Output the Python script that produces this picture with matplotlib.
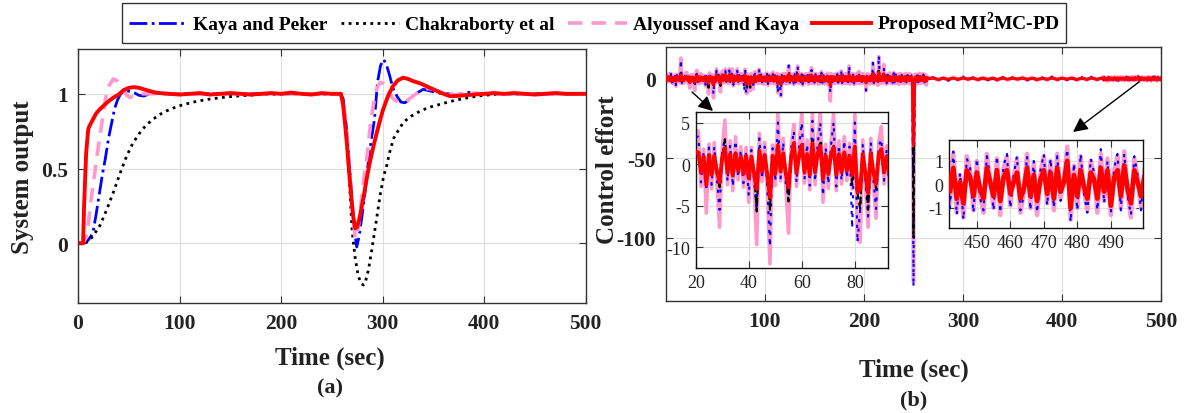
import numpy as np
import matplotlib
matplotlib.use("Agg")
import matplotlib.pyplot as plt

plt.rcParams['font.family'] = 'Liberation Serif'
plt.rcParams['mathtext.fontset'] = 'custom'
plt.rcParams['mathtext.rm'] = 'Liberation Serif'
plt.rcParams['mathtext.bf'] = 'Liberation Serif:bold'
plt.rcParams['axes.unicode_minus'] = False

BLUE = '#0000ff'
BLACK = '#000000'
PINK = '#ff99cc'
RED = '#ff0000'

labels = ['Kaya and Peker', 'Chakraborty et al', 'Alyoussef and Kaya',
          r'Proposed MI$^{\mathbf{2}}$MC-PD']

# ---- (a) system output ----
t_red = [0, 5, 6, 8, 10, 11, 14, 18, 22, 26, 30, 35, 40, 45, 50, 55, 60, 65, 70, 75,
         80, 90, 100, 110, 120, 130, 140, 150, 160, 170, 180, 190, 200, 210, 220, 230, 240, 250, 256, 259,
         261, 263, 265, 267, 269, 271, 273, 275, 277, 279, 281, 284, 287, 291, 295, 300, 305, 310, 315, 320,
         325, 330, 337, 345, 353, 360, 366, 372, 380, 390, 400, 410, 420, 430, 440, 450, 460, 470, 480, 490, 500]
y_red = [0, 0, 0.25, 0.6, 0.76, 0.78, 0.82, 0.87, 0.90, 0.925, 0.95, 0.975, 0.995, 1.025, 1.04, 1.045, 1.04, 1.03, 1.02, 1.01,
         1.005, 1.0, 0.995, 1.0, 1.005, 0.995, 1.0, 1.005, 1.0, 0.995, 1.0, 1.005, 1.0, 1.008, 1.0, 0.995, 1.005, 1.0, 1.0, 1.0,
         0.93, 0.80, 0.65, 0.48, 0.32, 0.18, 0.10, 0.11, 0.16, 0.23, 0.30, 0.42, 0.53, 0.65, 0.76, 0.885, 0.98, 1.05, 1.09, 1.108,
         1.10, 1.085, 1.07, 1.045, 1.02, 1.0, 0.985, 0.985, 0.99, 0.995, 1.0, 1.005, 1.0, 1.005, 1.0, 0.995, 1.0, 1.005, 1.0, 1.0, 1.0]

t_blue = [0, 6, 10, 13, 15, 18, 21, 24, 27, 30, 33, 36, 39, 42, 45, 48, 52, 56, 60, 65,
          70, 75, 85, 95, 110, 130, 150, 170, 190, 210, 230, 250, 258, 261, 264, 267, 270, 272, 274.5, 277,
          280, 283, 286, 289, 292, 295, 298, 301, 304, 307, 310, 314, 318, 322, 326, 330, 335, 340, 346, 353,
          360, 366, 372, 378, 384, 390, 400, 420, 440, 460, 480, 500]
y_blue = [0, 0, 0.02, 0.05, 0.08, 0.2, 0.33, 0.46, 0.57, 0.70, 0.80, 0.90, 0.96, 1.0, 1.015, 1.02, 1.015, 1.005, 0.99, 0.985,
          1.0, 1.005, 1.0, 1.0, 1.0, 1.0, 1.0, 1.0, 1.0, 1.0, 1.0, 1.0, 1.0, 0.97, 0.80, 0.55, 0.28, 0.10, -0.025, 0.05,
          0.2, 0.36, 0.55, 0.70, 0.83, 1.08, 1.19, 1.23, 1.19, 1.12, 1.04, 0.985, 0.945, 0.94, 0.96, 0.985, 1.01, 1.03, 1.02, 1.01,
          1.0, 1.0, 0.995, 1.0, 1.01, 1.005, 1.0, 1.0, 1.0, 1.0, 1.0, 1.0]

t_pink = [0, 5, 8, 10, 13, 16.7, 19, 21.7, 24, 26, 28.3, 31, 34.8, 38, 41, 44.6, 48, 51.2, 55, 61,
          70, 80, 100, 130, 160, 190, 220, 250, 258, 261, 264, 267, 270, 273, 276, 279, 282, 285, 288, 291,
          294, 297.5, 301, 304, 307, 310, 314, 318, 322, 326, 330, 335, 340, 345, 350, 356, 363, 370, 380, 390,
          400, 420, 440, 460, 480, 500]
y_pink = [0, 0, 0.04, 0.12, 0.3, 0.48, 0.6, 0.72, 0.83, 0.92, 1.01, 1.06, 1.1, 1.09, 1.06, 1.03, 0.99, 0.975, 0.985, 1.0,
          1.0, 1.0, 1.0, 1.0, 1.0, 1.0, 1.0, 1.0, 1.0, 0.96, 0.78, 0.52, 0.25, 0.03, 0.1, 0.28, 0.45, 0.6, 0.8, 0.93,
          1.03, 1.075, 1.07, 1.05, 1.0, 0.97, 0.95, 0.94, 0.945, 0.965, 0.985, 1.01, 1.03, 1.035, 1.03, 1.015, 1.0, 0.995, 1.0, 1.005,
          1.0, 1.0, 1.0, 1.0, 1.0, 1.0]

t_black = [0, 5, 10, 15, 21.7, 28, 34.8, 41, 48, 54, 61, 67, 74, 80, 87, 94, 100, 108, 117, 130,
           145, 160, 180, 200, 230, 258, 261, 264, 267, 270, 273, 276, 279, 281, 283, 286, 289, 291, 294, 297.5,
           301, 304, 307, 310.7, 315, 320.5, 328, 337, 346, 356.7, 366, 376, 385, 394, 405, 420, 440, 460, 480, 500]
y_black = [0, 0, 0.01, 0.05, 0.12, 0.22, 0.34, 0.46, 0.585, 0.67, 0.74, 0.79, 0.83, 0.86, 0.885, 0.905, 0.92, 0.935, 0.95, 0.965,
           0.978, 0.987, 0.995, 1.0, 1.0, 1.0, 0.96, 0.75, 0.45, 0.08, -0.1, -0.22, -0.27, -0.28, -0.26, -0.18, -0.06, 0.03, 0.16, 0.32,
           0.45, 0.52, 0.61, 0.70, 0.75, 0.81, 0.85, 0.885, 0.91, 0.93, 0.948, 0.963, 0.975, 0.985, 0.993, 1.0, 1.0, 1.0, 1.0, 1.0]

# ---- (b) control effort ----
# samples every 1 s for t = 0..265
u_pink_early = [
    0.0, 2.5, -2.0, 3.1, -1.5, 3.4, -2.8, 1.9, -3.3, 2.2,
    -4.8, 2.7, -1.6, 3.0, -2.4, 13.0, -3.1, 2.0, -2.6, 1.5,
    3.9, 4.0, -2.7, 1.8, -5.9, 2.4, -3.0, 2.6, -2.2, -7.6,
    1.9, 5.3, -2.5, 2.8, -3.2, 3.3, -1.9, 2.1, -2.8, 2.0,
    -4.6, 2.0, -2.4, -9.7, 3.7, -2.1, 2.6, -3.4, -12.0, 2.3,
    -2.6, 6.2, -2.0, 3.1, -3.0, -8.3, 2.2, 4.8, -2.7, 2.5,
    6.1, -2.3, 2.9, -3.1, 6.2, -2.5, 3.0, 6.1, -4.6, 2.4,
    -2.9, 2.6, 6.1, -3.2, 2.8, -2.4, 3.3, -2.0, 2.5, -3.0,
    6.0, -9.1, -9.4, 2.9, -2.6, -7.6, 3.1, -2.3, -6.5, 2.7,
    4.5, -2.4, 2.2, -3.0, 6.0, -2.5, 3.2, -2.8, 2.4, -3.5,
    2.9, -2.2, 3.6, -4.0, 2.5, -2.9, 3.0, -2.4, 4.2, -3.1,
    2.6, -2.8, 3.3, -9.0, 2.7, -3.4, -11.0, 2.9, -2.5, 3.4,
    -2.7, 3.0, -3.3, 2.6, 8.3, -2.9, 3.1, -2.2, 2.8, -3.6,
    3.5, -2.6, 2.9, 8.0, -3.0, 2.7, -2.5, 3.3, -4.1, 2.4,
    -2.8, 3.2, -2.3, 2.9, -3.4, 3.6, -2.7, 7.0, -3.1, 2.6,
    -2.9, 3.4, -2.4, 2.8, -3.5, 3.1, -2.6, 4.5, -3.0, 2.7,
    -3.3, 2.5, -2.8, 3.6, -4.2, 2.9, -14.0, 3.2, -2.7, 2.4,
    -3.1, 2.8, -2.5, 3.5, -2.9, 3.0, -2.4, 5.0, -3.2, 2.6,
    -2.8, 3.3, -3.0, 2.7, -2.6, 8.0, -3.4, 2.9, -2.3, 3.1,
    -3.6, 2.5, -2.9, 3.4, -2.7, 4.6, -3.1, 2.8, -2.4, 3.2,
    -3.0, 2.6, -7.5, 3.1, -2.8, 2.9, -3.3, 2.4, -2.6, 10.0,
    -3.2, 3.0, -2.5, 3.6, -4.1, 14.0, -3.0, 2.8, -2.7, 3.3,
    9.0, -2.9, 2.6, -3.4, 3.0, -2.5, 3.7, -2.8, 2.4, -3.1,
    4.0, -2.6, 3.1, -2.9, 2.7, -3.5, 3.3, -2.4, 2.9, -3.0,
    2.6, -3.3, 3.4, -2.7, 2.8, -2.5, 3.2, -3.1, 2.5, -2.2,
    -128.0, -2.9, 3.0, -3.4, 2.7, -2.6, 3.5, -3.0, 2.9, -2.4,
    3.1, -2.8, 2.6, -4.0, 1.5, 0.3]
u_red_early = [
    0.0, 1.2, -0.9, 1.4, -1.1, 1.0, -1.3, 0.8, -1.2, 1.1,
    -1.6, 1.3, -0.7, 1.2, -1.0, 2.6, -1.2, 0.9, -1.1, 0.8,
    1.5, 1.4, -1.0, 0.9, -2.5, 1.1, -1.3, 1.0, -0.9, -2.2,
    0.8, 1.9, -1.1, 1.2, -1.4, 1.3, -0.8, 0.9, -1.2, 1.0,
    -1.7, 0.9, -1.1, -3.0, 1.6, -0.9, 1.1, -1.3, -4.0, 1.0,
    -1.2, 2.2, -0.9, 1.3, -1.2, -2.8, 0.9, 2.5, -1.1, 1.0,
    2.3, -1.0, 1.2, -1.3, 2.5, -1.0, 1.3, 2.2, -1.8, 1.0,
    -1.2, 1.1, 2.0, -1.3, 1.2, -1.0, 1.4, -0.8, 1.0, -1.3,
    2.1, -3.4, -3.0, 1.2, -1.1, -3.5, 1.3, -1.0, -2.4, 1.1,
    1.8, -1.0, 0.9, -1.2, 2.0, -1.1, 1.3, -1.2, 1.0, -1.4,
    1.2, -0.9, 1.5, -1.6, 1.0, -1.2, 1.3, -1.0, 1.7, -1.3,
    1.1, -1.2, 1.4, -3.0, 1.1, -1.4, -3.5, 1.2, -1.0, 1.4,
    -1.1, 1.2, -1.4, 1.1, 2.8, -1.2, 1.3, -0.9, 1.2, -1.5,
    1.4, -1.1, 1.2, 2.6, -1.2, 1.1, -1.0, 1.4, -1.7, 1.0,
    -1.2, 1.3, -0.9, 1.2, -1.4, 1.5, -1.1, 2.4, -1.3, 1.1,
    -1.2, 1.4, -1.0, 1.2, -1.5, 1.3, -1.1, 1.8, -1.2, 1.1,
    -1.4, 1.0, -1.2, 1.5, -1.7, 1.2, -4.5, 1.3, -1.1, 1.0,
    -1.3, 1.2, -1.0, 1.4, -1.2, 1.2, -1.0, 2.0, -1.3, 1.1,
    -1.2, 1.4, -1.2, 1.1, -1.1, 2.6, -1.4, 1.2, -0.9, 1.3,
    -1.5, 1.0, -1.2, 1.4, -1.1, 1.9, -1.3, 1.2, -1.0, 1.3,
    -1.2, 1.1, -2.5, 1.3, -1.2, 1.2, -1.4, 1.0, -1.1, 3.2,
    -1.3, 1.2, -1.0, 1.5, -1.7, 4.0, -1.2, 1.2, -1.1, 1.4,
    3.0, -1.2, 1.1, -1.4, 1.2, -1.0, 1.5, -1.2, 1.0, -1.3,
    1.6, -1.1, 1.3, -1.2, 1.1, -1.4, 1.3, -1.0, 1.2, -1.2,
    1.1, -1.4, 1.4, -1.1, 1.2, -1.0, 1.3, -1.3, 1.0, -0.9,
    -42.0, -1.2, 1.2, -1.4, 1.1, -1.1, 1.4, -1.2, 1.2, -1.0,
    1.3, -1.1, 1.0, -1.6, 0.6, 0.2]
u_blue_early = [
    0.0, 2.0, -1.6, 2.7, -1.2, 3.0, -2.4, 1.5, -2.9, 1.8,
    -4.0, 2.3, -1.3, 2.5, -2.0, 12.0, -2.6, 1.6, -2.2, 1.2,
    3.2, 3.3, -2.2, 1.5, -3.2, 2.0, -2.5, 2.1, -1.8, -5.5,
    1.6, 3.1, -2.1, 2.3, -2.7, 2.8, -1.6, 1.7, -2.3, 1.6,
    -3.8, 1.7, -2.0, -5.5, 3.1, -1.8, 2.1, -2.8, -9.9, 1.9,
    -2.1, 5.0, -1.7, 2.6, -2.5, -4.0, 1.8, 4.0, -2.2, 2.1,
    5.0, -1.9, 2.4, -2.6, 5.2, -2.1, 2.5, 5.0, -3.8, 2.0,
    -2.4, 2.2, 5.0, -2.7, 2.3, -2.0, 2.8, -1.7, 2.1, -7.7,
    5.0, -9.4, -5.5, 2.4, -2.2, -6.3, 2.6, -1.9, -5.4, 2.2,
    3.0, -2.0, 1.8, -2.5, 6.0, -2.1, 2.7, -2.3, 2.0, -2.9,
    2.4, -1.8, 3.0, -3.3, 2.1, -2.4, 2.5, -2.0, 3.5, -2.6,
    2.2, -2.3, 2.8, -9.0, 2.2, -2.8, -11.0, 2.4, -2.1, 2.8,
    -2.2, 2.5, -2.7, 2.2, 8.3, -2.4, 2.6, -1.8, 2.3, -3.0,
    2.9, -2.2, 2.4, 8.0, -2.5, 2.2, -2.1, 2.7, -3.4, 2.0,
    -2.3, 2.6, -1.9, 2.4, -2.8, 3.0, -2.2, 5.5, -2.6, 2.2,
    -2.4, 2.8, -2.0, 2.3, -2.9, 2.6, -2.2, 3.7, -2.5, 2.2,
    -2.7, 2.1, -2.3, 3.0, -3.5, 2.4, -9.0, 2.7, -2.2, 2.0,
    -2.6, 2.3, -2.1, 2.9, -2.4, 2.5, -2.0, 5.0, -2.7, 2.2,
    -2.3, 2.7, -2.5, 2.2, -2.2, 8.0, -2.8, 2.4, -1.9, 2.6,
    -3.0, 2.1, -2.4, 2.8, -2.2, 3.8, -2.6, 2.3, -2.0, 2.7,
    -2.5, 2.2, -7.5, 2.6, -2.3, 2.4, -2.7, 2.0, -2.2, 10.0,
    -2.7, 2.5, -2.1, 3.0, -3.4, 14.6, -2.5, 2.3, -2.2, 2.7,
    7.0, -2.4, 2.2, -2.8, 2.5, -2.1, 3.1, -2.3, 2.0, -2.6,
    3.5, -2.2, 2.6, -2.4, 2.2, -2.9, 2.7, -2.0, 2.4, -2.5,
    2.2, -2.7, 2.8, -2.2, 2.3, -2.1, 2.6, -2.6, 2.1, -1.8,
    -131.0, -2.4, 2.5, -2.8, 2.2, -2.2, 2.9, -2.5, 2.4, -2.0,
    2.6, -2.3, 2.2, -3.3, 1.2, 0.2]
u_black_early = [
    0.0, 1.0, -0.8, 1.2, -0.9, 1.3, -1.0, 0.7, -1.1, 0.9,
    -1.8, 1.0, -0.6, 1.1, -0.8, 4.0, -1.0, 0.7, -0.9, 0.6,
    1.4, 1.3, -0.9, 0.7, -2.0, 0.9, -1.0, 0.8, -0.7, -3.0,
    0.7, 3.0, -0.9, 1.0, -1.1, 1.2, -0.7, 0.8, -1.0, 0.8,
    -1.8, 0.8, -0.9, -5.7, 1.4, -0.8, 0.9, -1.1, -5.5, 0.8,
    -1.0, 2.4, -0.8, 1.1, -1.0, -4.5, 0.8, 2.0, -0.9, 0.9,
    2.3, -0.8, 1.0, -1.1, 2.8, -0.9, 1.1, 2.8, -1.8, 0.9,
    -1.0, 0.9, 2.2, -1.1, 1.0, -0.8, 1.2, -0.7, 0.9, -2.5,
    2.0, -3.5, -5.4, 1.0, -0.9, -5.5, 1.1, -0.8, -3.0, 0.9,
    1.6, -0.8, 0.8, -1.0, 2.2, -0.9, 1.1, -1.0, 0.9, -1.2,
    1.0, -0.8, 1.3, -1.4, 0.9, -1.0, 1.1, -0.9, 1.5, -1.1,
    0.9, -1.0, 1.2, -3.5, 0.9, -1.2, -4.0, 1.0, -0.9, 1.2,
    -0.9, 1.0, -1.2, 0.9, 3.0, -1.0, 1.1, -0.8, 1.0, -1.3,
    1.2, -0.9, 1.0, 3.0, -1.0, 0.9, -0.9, 1.2, -1.5, 0.8,
    -1.0, 1.1, -0.8, 1.0, -1.2, 1.3, -0.9, 2.5, -1.1, 0.9,
    -1.0, 1.2, -0.9, 1.0, -1.3, 1.1, -0.9, 1.6, -1.0, 0.9,
    -1.2, 0.9, -1.0, 1.3, -1.5, 1.0, -5.0, 1.1, -0.9, 0.8,
    -1.1, 1.0, -0.9, 1.2, -1.0, 1.0, -0.9, 2.0, -1.1, 0.9,
    -1.0, 1.2, -1.0, 0.9, -0.9, 3.0, -1.2, 1.0, -0.8, 1.1,
    -1.3, 0.9, -1.0, 1.2, -0.9, 1.7, -1.1, 1.0, -0.9, 1.1,
    -1.0, 0.9, -3.0, 1.1, -1.0, 1.0, -1.2, 0.9, -0.9, 3.5,
    -1.1, 1.0, -0.9, 1.3, -1.5, 5.0, -1.0, 1.0, -0.9, 1.2,
    3.2, -1.0, 0.9, -1.2, 1.0, -0.9, 1.3, -1.0, 0.9, -1.1,
    1.5, -0.9, 1.1, -1.0, 0.9, -1.2, 1.1, -0.9, 1.0, -1.0,
    0.9, -1.2, 1.2, -0.9, 1.0, -0.9, 1.1, -1.1, 0.9, -0.8,
    -100.0, -1.0, 1.0, -1.2, 0.9, -0.9, 1.2, -1.0, 1.0, -0.9,
    1.1, -0.9, 0.9, -1.4, 0.5, 0.1]

# samples every 5 s for t = 270..440
u_pink_mid = [0.8, -0.9, 0.7, -1.0, 0.9, -0.8, 1.1, -0.7, 0.8, -1.0, 0.9, -0.8, 0.7, -1.1, 1.0, -0.9, 0.8, -0.7,
              1.0, -0.9, 0.8, -1.0, 0.7, -0.8, 1.1, -0.9, 0.8, -0.7, 0.9, -1.0, 0.8, -0.9, 1.0, -0.8, 0.7]
u_red_mid = [0.3, -0.4, 0.3, -0.3, 0.4, -0.3, 0.4, -0.2, 0.3, -0.4, 0.3, -0.3, 0.2, -0.4, 0.4, -0.3, 0.3, -0.2,
             0.4, -0.3, 0.3, -0.4, 0.2, -0.3, 0.4, -0.3, 0.3, -0.2, 0.3, -0.4, 0.3, -0.3, 0.4, -0.3, 0.2]
u_blue_mid = [0.9, -1.1, 0.8, -1.2, 1.0, -0.9, 1.3, -0.8, 0.9, -1.1, 1.0, -0.9, 0.8, -1.3, 1.1, -1.0, 0.9, -0.8,
              1.2, -1.0, 0.9, -1.2, 0.8, -0.9, 1.3, -1.0, 0.9, -0.8, 1.0, -1.1, 0.9, -1.0, 1.2, -0.9, 0.8]
u_black_mid = [0.4, -0.5, 0.3, -0.5, 0.4, -0.4, 0.5, -0.3, 0.4, -0.5, 0.4, -0.4, 0.3, -0.5, 0.5, -0.4, 0.4, -0.3,
               0.5, -0.4, 0.4, -0.5, 0.3, -0.4, 0.5, -0.4, 0.4, -0.3, 0.4, -0.5, 0.4, -0.4, 0.5, -0.4, 0.3]

# samples every 1 s for t = 441..500
u_pink_late = [
    1.1, -0.8, 1.3, -1.2, 0.4, -1.4, 1.2, 0.6, -1.1, 1.0,
    -0.5, -1.2, 1.3, 0.2, -1.0, 1.1, -1.3, 0.7, 1.2, -0.9,
    0.3, 1.1, -1.2, -0.4, 1.3, -1.0, 0.9, -1.3, 0.5, 1.2,
    -0.8, 1.0, -1.1, 1.3, -0.6, 0.2, 1.6, -1.5, 0.8, -1.0,
    1.2, -0.3, -1.1, 1.0, 0.4, -1.2, 1.3, -0.7, 1.1, -1.3,
    0.6, 1.2, -1.0, 1.4, -0.4, -1.4, 1.1, 0.3, -1.0, 0.6]
u_red_late = [
    0.6, -0.3, 0.7, -0.6, 0.1, -0.8, 0.6, 0.3, -0.5, 0.5,
    -0.2, -0.6, 0.7, 0.1, -0.5, 0.6, -0.7, 0.3, 0.6, -0.4,
    0.1, 0.5, -0.6, -0.2, 0.7, -0.5, 0.4, -0.7, 0.2, 0.6,
    -0.4, 0.5, -0.6, 0.7, -0.3, 0.1, 1.0, -1.0, 0.4, -0.5,
    0.6, -0.1, -0.6, 0.5, 0.2, -0.6, 0.7, -0.3, 0.6, -0.9,
    0.3, 0.6, -0.5, 0.8, -0.2, -0.8, 0.6, 0.1, -0.5, 0.3]
u_blue_late = [
    1.2, -1.0, 1.4, -1.3, 0.5, -1.5, 1.1, 0.7, -1.2, 1.1,
    -0.6, -1.1, 1.2, 0.3, -1.1, 1.2, -1.2, 0.8, 1.3, -1.0,
    0.4, 1.2, -1.1, -0.5, 1.2, -1.1, 1.0, -1.2, 0.6, 1.3,
    -0.9, 1.1, -1.0, 1.2, -0.7, 0.3, 1.5, -1.6, 0.9, -1.1,
    1.3, -0.4, -1.2, 1.1, 0.5, -1.1, 1.5, -0.8, 1.0, -1.2,
    0.7, 1.3, -1.1, 1.3, -0.5, -1.3, 1.2, 0.4, -1.1, 0.7]
u_black_late = [
    0.5, -0.3, 0.6, -0.5, 0.2, -0.6, 0.5, 0.3, -0.5, 0.4,
    -0.2, -0.5, 0.6, 0.1, -0.4, 0.5, -0.6, 0.3, 0.5, -0.4,
    0.1, 0.5, -0.5, -0.2, 0.6, -0.4, 0.4, -0.6, 0.2, 0.5,
    -0.3, 0.4, -0.5, 0.6, -0.3, 0.1, 0.7, -0.7, 0.3, -0.4,
    0.5, -0.1, -0.5, 0.4, 0.2, -0.5, 0.6, -0.3, 0.5, -0.6,
    0.3, 0.5, -0.4, 0.6, -0.2, -0.6, 0.5, 0.1, -0.4, 0.3]

t_u = np.concatenate([np.arange(0, 266), np.arange(270, 441, 5), np.arange(441, 501)])
u_pink = np.concatenate([u_pink_early, u_pink_mid, u_pink_late])
u_red = np.concatenate([u_red_early, u_red_mid, u_red_late])
u_blue = np.concatenate([u_blue_early, u_blue_mid, u_blue_late])
u_black = np.concatenate([u_black_early, u_black_mid, u_black_late])

W, H = 1184, 414
SPINE = '#333333'
GRID = '#dedede'


def fx(px):
    return px / W


def fy(py):
    return 1 - py / H


def style_axes(ax, bold=True, size=15.5):
    ax.grid(True, color=GRID, lw=0.8)
    ax.set_axisbelow(True)
    for s in ax.spines.values():
        s.set_color(SPINE)
        s.set_linewidth(1.0)
    ax.tick_params(direction='in', length=5, width=0.8, color=SPINE,
                   top=True, right=True, labelsize=size, pad=7)
    for lab in ax.get_xticklabels() + ax.get_yticklabels():
        lab.set_fontweight('bold' if bold else 'normal')
        lab.set_color('#222222')


fig = plt.figure(figsize=(W / 100, H / 100), dpi=100)

# ---- (a) ----
ax1 = fig.add_axes([fx(78), fy(304), (585.7 - 78) / W, (304 - 50) / H])
h_blue, = ax1.plot(t_blue, y_blue, color=BLUE, ls='-.', lw=2.0)
h_black, = ax1.plot(t_black, y_black, color=BLACK, ls=(0, (1, 1.6)), lw=2.0)
h_pink, = ax1.plot(t_pink, y_pink, color=PINK, ls=(0, (4, 2.5)), lw=2.6)
h_red, = ax1.plot(t_red, y_red, color=RED, ls='-', lw=2.8)
ax1.set_xlim(0, 500)
ax1.set_ylim(-0.4, 1.3)
ax1.set_xticks([0, 100, 200, 300, 400, 500])
ax1.set_yticks([0, 0.5, 1])
ax1.set_yticklabels(['0', '0.5', '1'])
style_axes(ax1)

fig.text(fx(23), fy(177), 'System output', rotation=90, ha='center', va='center',
         fontsize=18, fontweight='bold', color='#222222')
fig.text(fx(330), fy(358), 'Time (sec)', ha='center', va='center',
         fontsize=18, fontweight='bold', color='#222222')
fig.text(fx(330), fy(388), '(a)', ha='center', va='center',
         fontsize=16, fontweight='bold', color='#222222')

# ---- (b) ----
ax2 = fig.add_axes([fx(666), fy(302), (1161 - 666) / W, (302 - 48) / H])


def draw_u(ax, lw_wide=2.6, lw_red=2.2):
    ax.plot(t_u, u_pink, color=PINK, ls='-', lw=lw_wide, zorder=2)
    ax.plot(t_u, u_blue, color=BLUE, ls=(0, (1.5, 3)), lw=1.5, zorder=3)
    ax.plot(t_u, u_black, color=BLACK, ls='--', lw=1.5, zorder=4)
    ax.plot(t_u, u_red, color=RED, ls='-', lw=lw_red, zorder=5)


draw_u(ax2)
ax2.set_xlim(0, 500)
ax2.set_ylim(-140, 20)
ax2.set_xticks([100, 200, 300, 400, 500])
ax2.set_yticks([-100, -50, 0])
style_axes(ax2)

fig.text(fx(607), fy(170), 'Control effort', rotation=90, ha='center', va='center',
         fontsize=18, fontweight='bold', color='#222222')
fig.text(fx(914), fy(370), 'Time (sec)', ha='center', va='center',
         fontsize=18, fontweight='bold', color='#222222')
fig.text(fx(914), fy(400), '(b)', ha='center', va='center',
         fontsize=16, fontweight='bold', color='#222222')

# zoomed insets
ins1 = fig.add_axes([fx(695.7), fy(269), 192.3 / W, 156.3 / H])
draw_u(ins1, lw_wide=2.6, lw_red=2.8)
ins1.set_xlim(20, 92.5)
ins1.set_ylim(-12.5, 6.3)
ins1.set_xticks([20, 40, 60, 80])
ins1.set_yticks([-10, -5, 0, 5])
style_axes(ins1, bold=False, size=13)
ins1.tick_params(pad=4)
for s in ins1.spines.values():
    s.set_color('#111111')

ins2 = fig.add_axes([fx(949), fy(229), 194 / W, 88.3 / H])
draw_u(ins2, lw_wide=3.2, lw_red=3.4)
ins2.set_xlim(441.7, 499.6)
ins2.set_ylim(-1.85, 1.9)
ins2.set_xticks([450, 460, 470, 480, 490])
ins2.set_yticks([-1, 0, 1])
style_axes(ins2, bold=False, size=13)
ins2.tick_params(pad=4)
for s in ins2.spines.values():
    s.set_color('#111111')

arrow = dict(arrowstyle='-|>', color='black', lw=1.0, mutation_scale=22,
             shrinkA=0, shrinkB=0)
fig.add_artist(matplotlib.patches.FancyArrowPatch(
    (fx(692), fy(93)), (fx(713), fy(112)), transform=fig.transFigure, **arrow))
fig.add_artist(matplotlib.patches.FancyArrowPatch(
    (fx(1139), fy(83)), (fx(1073), fy(133)), transform=fig.transFigure, **arrow))

# ---- legend ----
leg = fig.legend([h_blue, h_black, h_pink, h_red], labels, loc='center',
                 bbox_to_anchor=(fx(594), fy(24)), ncol=4,
                 prop={'weight': 'bold', 'size': 14}, handlelength=3.0,
                 handletextpad=0.3, columnspacing=0.7, borderpad=0.35,
                 fancybox=False, framealpha=1, edgecolor=SPINE)
leg.get_frame().set_linewidth(1.0)

fig.savefig('out.png', dpi=100)
